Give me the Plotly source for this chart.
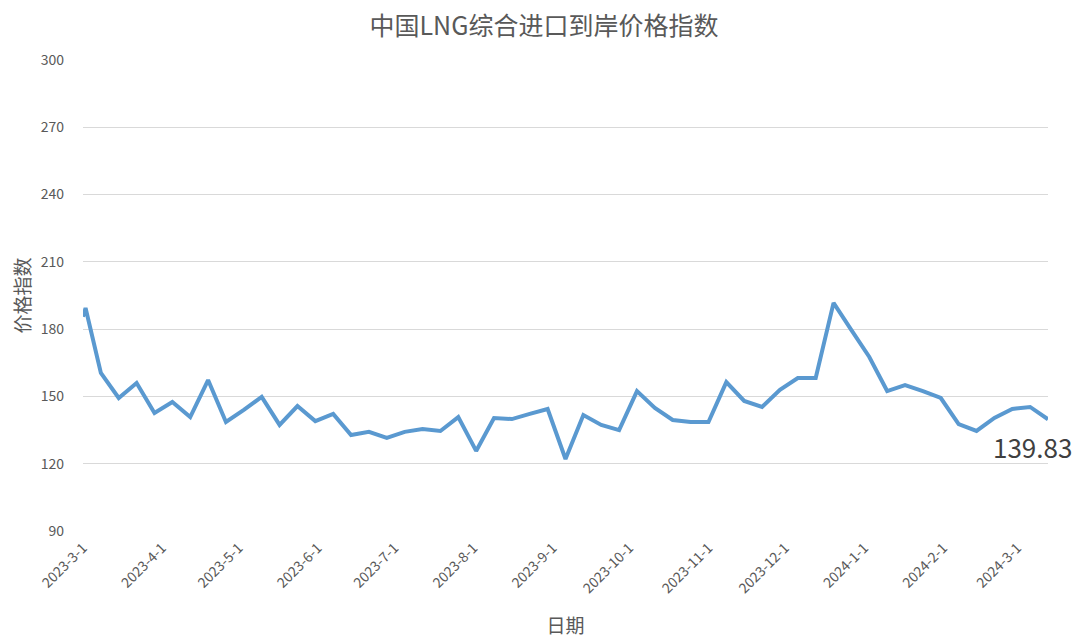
import plotly.graph_objects as go

# Data
dates = [
    "2023-03-01", "2023-03-02", "2023-03-08", "2023-03-15", "2023-03-22", "2023-03-29",
    "2023-04-05", "2023-04-12", "2023-04-19", "2023-04-26",
    "2023-05-03", "2023-05-10", "2023-05-17", "2023-05-24", "2023-05-31",
    "2023-06-07", "2023-06-14", "2023-06-21", "2023-06-28",
    "2023-07-05", "2023-07-12", "2023-07-19", "2023-07-26",
    "2023-08-02", "2023-08-09", "2023-08-16", "2023-08-23", "2023-08-30",
    "2023-09-06", "2023-09-13", "2023-09-20", "2023-09-27",
    "2023-10-04", "2023-10-11", "2023-10-18", "2023-10-25",
    "2023-11-01", "2023-11-08", "2023-11-15", "2023-11-22", "2023-11-29",
    "2023-12-06", "2023-12-13", "2023-12-20", "2023-12-27",
    "2024-01-03", "2024-01-10", "2024-01-17", "2024-01-24", "2024-01-31",
    "2024-02-07", "2024-02-14", "2024-02-21", "2024-02-28",
    "2024-03-06", "2024-03-13",
]
values = [
    185.5, 189.4, 160.5, 149.3, 156.0, 142.6,
    147.5, 140.8, 157.3, 138.6,
    144.0, 149.8, 137.3, 145.7, 139.0,
    142.2, 132.8, 134.2, 131.5,
    134.2, 135.5, 134.6, 140.8,
    125.7, 140.4, 139.9, 142.2, 144.4,
    122.1, 141.7, 137.3, 135.0,
    152.4, 144.9, 139.5, 138.6,
    138.6, 156.4, 148.0, 145.3, 152.9,
    158.2, 158.2, 191.7, 179.6,
    167.6, 152.4, 155.1, 152.4, 149.3,
    137.7, 134.6, 140.4, 144.4,
    145.3, 139.83,
]
tick_dates = [
    "2023-03-01", "2023-04-01", "2023-05-01", "2023-06-01", "2023-07-01",
    "2023-08-01", "2023-09-01", "2023-10-01", "2023-11-01", "2023-12-01",
    "2024-01-01", "2024-02-01", "2024-03-01",
]
tick_labels = [
    "2023-3-1", "2023-4-1", "2023-5-1", "2023-6-1", "2023-7-1",
    "2023-8-1", "2023-9-1", "2023-10-1", "2023-11-1", "2023-12-1",
    "2024-1-1", "2024-2-1", "2024-3-1",
]
y_ticks = [90, 120, 150, 180, 210, 240, 270, 300]
title_text = "中国LNG综合进口到岸价格指数"
x_title = "日期"
y_title = "价格指数"
last_label = "139.83"

FONT = "Noto Sans CJK SC"
GRAY = "#595959"

fig = go.Figure()
fig.add_trace(go.Scatter(
    x=dates, y=values, mode="lines",
    line=dict(color="#5A99D0", width=4),
    cliponaxis=False, showlegend=False, hoverinfo="x+y",
))

fig.add_annotation(
    x=dates[-1], y=values[-1], text=last_label, showarrow=False,
    xanchor="center", yanchor="middle", xshift=-16, yshift=-27,
    font=dict(family=FONT, size=26, color="#404040"),
)

# the page body adds an 8px offset, so the figure is 1072x636
fig.update_layout(
    width=1072, height=636,
    margin=dict(l=75, r=32, t=52, b=113, autoexpand=False),
    paper_bgcolor="white", plot_bgcolor="white",
    font=dict(family=FONT, color=GRAY),
    title=dict(text=title_text, x=0.5, xanchor="center", y=0.971, yanchor="middle",
               font=dict(family=FONT, size=25, color=GRAY), automargin=False),
)
fig.update_xaxes(
    type="date", range=["2023-03-01", "2024-03-13"],
    tickvals=tick_dates, ticktext=tick_labels, tickangle=-45,
    tickfont=dict(family=FONT, size=14, color=GRAY),
    showgrid=False, zeroline=False, showline=False, ticks="",
    ticklabelstandoff=5, automargin=False,
    title=dict(text=x_title, font=dict(family=FONT, size=19, color=GRAY), standoff=23),
)
fig.update_yaxes(
    range=[90, 300], tickvals=y_ticks,
    tickfont=dict(family=FONT, size=14, color=GRAY),
    showgrid=True, gridcolor="#d9d9d9", gridwidth=1,
    zeroline=False, showline=False, ticks="",
    ticklabelstandoff=18, automargin=False,
    title=dict(text=y_title, font=dict(family=FONT, size=19, color=GRAY), standoff=15),
)

fig.write_html("out.html")
